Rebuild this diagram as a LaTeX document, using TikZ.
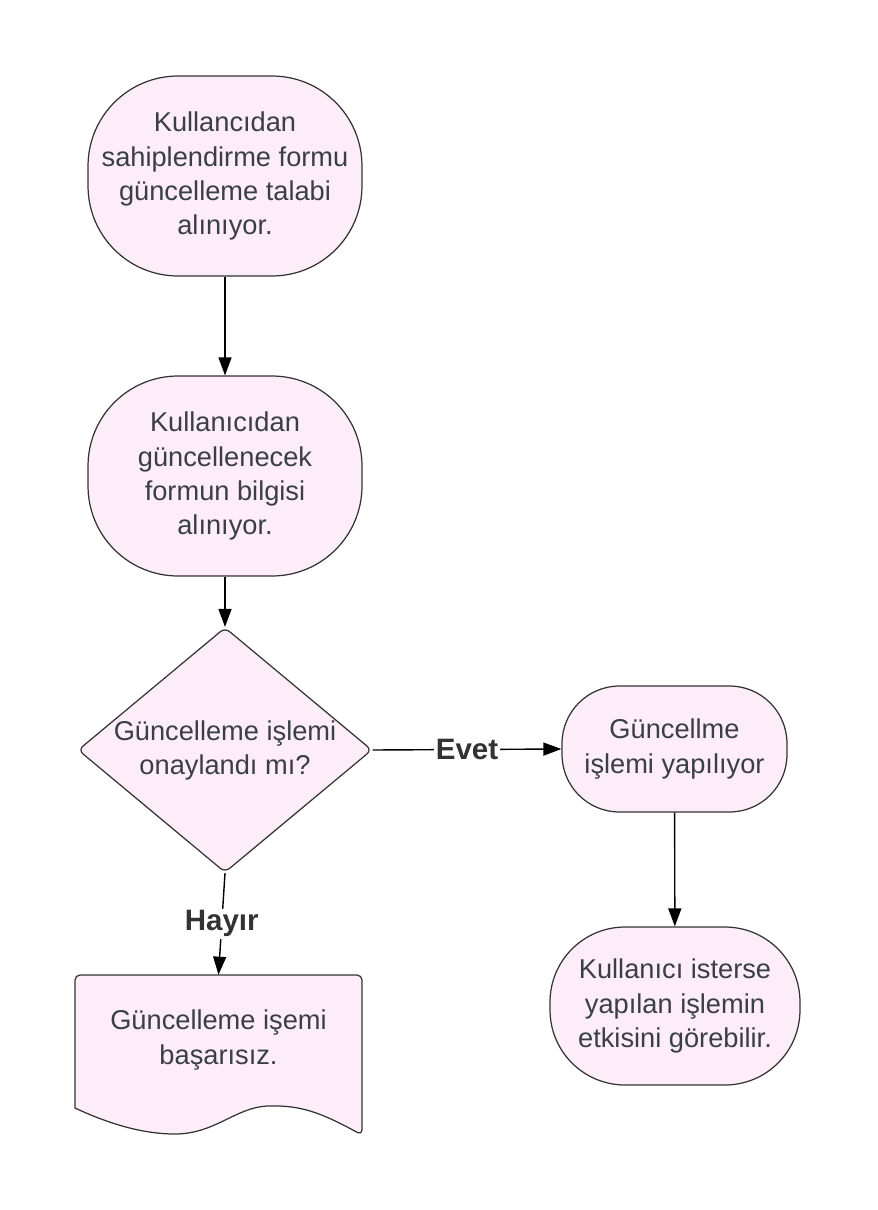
\documentclass[tikz,border=0pt]{standalone}
\usepackage{fontspec}
\setmainfont{Liberation Sans}
\usetikzlibrary{shapes.geometric,arrows.meta}
\definecolor{boxfill}{RGB}{253,237,248}
\definecolor{boxline}{RGB}{51,51,51}
\definecolor{boxtext}{RGB}{58,62,70}
\definecolor{lbltext}{RGB}{51,51,51}
\tikzset{
  proc/.style={draw=boxline,fill=boxfill,line width=0.7pt,align=center,text=boxtext,
    font=\fontsize{15.5}{19.4}\selectfont,inner sep=0pt},
  decision/.style={diamond,draw=boxline,fill=boxfill,line width=0.7pt,rounded corners=0.12cm,
    inner sep=0pt,minimum width=5.88cm,minimum height=4.9cm},
  docshape/.style={draw=boxline,fill=boxfill,line width=0.7pt},
  doctext/.style={align=center,text=boxtext,font=\fontsize{15.5}{19.4}\selectfont,
    minimum width=5.74cm,minimum height=2.6cm,inner sep=0pt},
  conn/.style={draw=black,line width=0.8pt,-{Triangle[length=0.36cm,width=0.26cm]}},
  answer/.style={fill=white,text=lbltext,font=\bfseries\fontsize{16.8}{19}\selectfont,inner sep=1pt}
}

\begin{document}
\begin{tikzpicture}[x=0.02cm,y=-0.02cm]
  \useasboundingbox (0,0) rectangle (877,1210);
  % left column
  \node[proc,minimum width=5.48cm,minimum height=4cm,rounded corners=1.8cm] (req) at (225,176)
    {Kullancıdan\\sahiplendirme formu\\güncelleme talabi\\alınıyor.};
  \node[proc,minimum width=5.48cm,minimum height=4cm,rounded corners=1.8cm] (info) at (225,476)
    {Kullanıcıdan\\güncellenecek\\formun bilgisi\\alınıyor.};
  \node[decision,label={[align=center,text=boxtext,font=\fontsize{15.5}{19.4}\selectfont]center:Güncelleme işlemi\\onaylandı mı?}] (dia) at (225,750) {};
  % document shape
  \path[docshape] (75,1108) [rounded corners=0.1cm] -- (75,975) -- (362,975) -- (362,1135) [sharp corners]
    .. controls (320,1112) and (300,1105) .. (268,1106)
    .. controls (236,1107) and (215,1134) .. (175,1134)
    .. controls (140,1134) and (105,1122) .. (75,1108) -- cycle;
  \node[doctext] (fail) at (218.5,1040) {Güncelleme işemi\\başarısız.};
  % right column
  \node[proc,minimum width=4.5cm,minimum height=2.52cm,rounded corners=1.15cm] (upd) at (674.5,749)
    {Güncellme\\işlemi yapılıyor};
  \node[proc,minimum width=5cm,minimum height=3.16cm,rounded corners=1.5cm] (view) at (675,1006)
    {Kullanıcı isterse\\yapılan işlemin\\etkisini görebilir.};
  % connectors
  \draw[conn] (req) -- (info);
  \draw[conn] (info) -- (dia);
  \draw[conn] (dia.east) -- node[answer]{Evet} (upd.west);
  \draw[conn] (dia.south) -- node[answer]{Hayır} (fail.north);
  \draw[conn] (upd) -- (view);
\end{tikzpicture}
\end{document}
